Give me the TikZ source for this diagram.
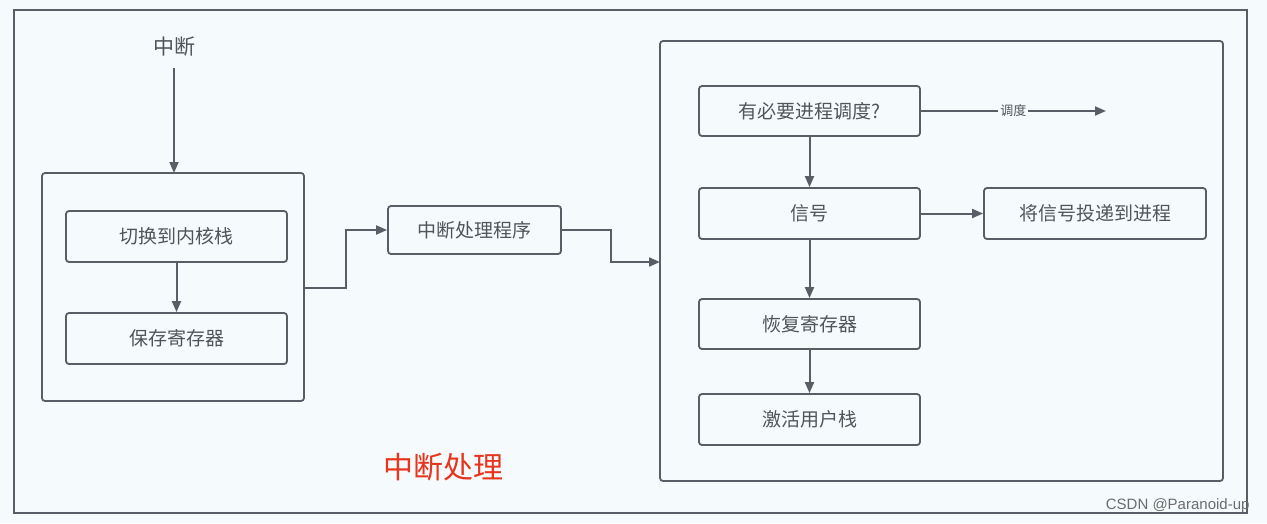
\documentclass[tikz,border=0pt]{standalone}
\usepackage{fontspec}
\setmainfont{Liberation Sans}
\newfontfamily\cjk{Noto Sans CJK SC}
\usetikzlibrary{arrows.meta,positioning}
\definecolor{bgc}{HTML}{F5FBFC}
\definecolor{linec}{HTML}{585D66}
\definecolor{txtc}{HTML}{50545B}
\definecolor{titlec}{HTML}{E8341C}
\tikzset{
  boxn/.style={draw=linec, line width=1.8pt, rounded corners=3pt, inner sep=0pt,
    font=\cjk\fontsize{19}{22}\selectfont, text=txtc},
  frame/.style={draw=linec, line width=1.8pt, rounded corners=3pt},
  arr/.style={draw=linec, line width=2pt, -{Triangle[length=11pt,width=9pt]}},
}
\begin{document}
\begin{tikzpicture}[x=1pt,y=-1pt]
\useasboundingbox (0,0) rectangle (1267,523);
\fill[bgc] (0,0) rectangle (1267,523);
\draw[linec, line width=1.8pt] (14,10) rectangle (1247,513);
% left frame
\node[frame, minimum width=262pt, minimum height=228pt, inner sep=0pt] (lf) at (173,287) {};
\node[font=\cjk\fontsize{21}{24}\selectfont, text=txtc] (intr) at (174,47) {中断};
\node[boxn, minimum width=221pt, minimum height=51pt] (sw) at (176.5,236.5) {切换到内核栈};
\node[boxn, minimum width=221pt, minimum height=51pt] (save) at (176.5,338.5) {保存寄存器};
\node[boxn, minimum width=173pt, minimum height=48pt] (isr) at (474.5,230) {中断处理程序};
% right frame
\node[frame, minimum width=563pt, minimum height=440pt, inner sep=0pt] (rf) at (941.5,261) {};
\node[boxn, minimum width=221pt, minimum height=50pt] (need) at (809.5,111) {有必要进程调度?};
\node[boxn, minimum width=221pt, minimum height=51pt] (sig) at (809.5,213.5) {信号};
\node[boxn, minimum width=222pt, minimum height=51pt] (deliver) at (1095,213.5) {将信号投递到进程};
\node[boxn, minimum width=221pt, minimum height=50pt] (rest) at (809.5,324) {恢复寄存器};
\node[boxn, minimum width=221pt, minimum height=51pt] (act) at (809.5,419.5) {激活用户栈};
\coordinate (schedend) at (1106,111);
% connectors
\draw[arr] (intr.south) ++(0,8) -- (174,173);
\draw[arr] (sw.south) -- (save.north);
\draw[arr] (304,288) -- (346,288) -- (346,230) -- (isr.west);
\draw[arr] (isr.east) -- (611,230) -- (611,262) -- (660,262);
\draw[arr] (need.south) -- (sig.north);
\draw[arr] (sig.south) -- (rest.north);
\draw[arr] (rest.south) -- (act.north);
\draw[arr] (sig.east) -- (deliver.west);
\draw[arr] (need.east) -- node[fill=bgc, inner sep=2pt, font=\cjk\fontsize{13}{15}\selectfont, text=txtc] {调度} (schedend);
% title
\node[font=\cjk\fontsize{30}{34}\selectfont, text=titlec] (title) at (443,467) {中断处理};
\node[font=\fontsize{15}{17}\selectfont, text=gray!85!black, anchor=east] (wm) at (1253,506) {CSDN @Paranoid-up};
\end{tikzpicture}
\end{document}
